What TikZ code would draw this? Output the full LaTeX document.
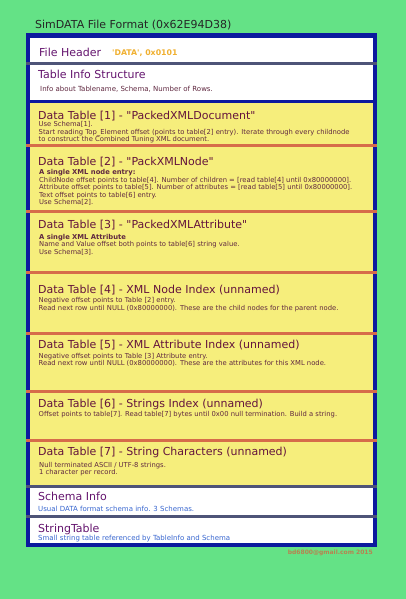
\documentclass[tikz,border=0pt]{standalone}
\usepackage{fontspec}
\setmainfont{DejaVu Sans}[Ligatures=TeXOff]
\definecolor{bggreen}{RGB}{100,226,134}
\definecolor{frameblue}{RGB}{12,26,158}
\definecolor{tableyellow}{RGB}{246,238,124}
\definecolor{sepred}{RGB}{214,108,74}
\definecolor{sepgray}{RGB}{78,84,120}
\definecolor{headpurple}{RGB}{100,20,110}
\definecolor{tablemaroon}{RGB}{100,20,60}
\definecolor{notebrown}{RGB}{96,40,64}
\definecolor{noteblue}{RGB}{56,102,208}
\definecolor{magicorange}{RGB}{240,176,48}
\definecolor{mailtan}{RGB}{184,130,80}
\begin{document}
\begin{tikzpicture}[x=1pt,y=-1pt,
  headtitle/.style={anchor=base west,inner sep=0pt,font=\fontsize{11}{13}\selectfont,text=headpurple},
  tabletitle/.style={headtitle,text=tablemaroon},
  tablenote/.style={anchor=base west,inner sep=0pt,align=left,font=\fontsize{6.8}{7.6}\selectfont,text=notebrown},
  headnote/.style={tablenote,font=\fontsize{7}{7.6}\selectfont},
  bluenote/.style={headnote,text=noteblue},
  redsep/.style={line width=3pt,sepred},
  graysep/.style={line width=3pt,sepgray}]

% Background
\fill[bggreen] (0,0) rectangle (406,599);
\useasboundingbox (0,0) rectangle (406,599);

% Title
\node[anchor=base west,inner sep=0pt,font=\fontsize{11}{13}\selectfont,text=black!85] (title) at (35,29) {SimDATA File Format (0x62E94D38)};

% Frame and fills
\fill[frameblue] (26,33.5) rectangle (377,547);
\fill[white] (30,38) rectangle (373,543);
\fill[frameblue] (26,100) rectangle (377,103.5);
\fill[tableyellow] (30,103.5) rectangle (373,486);

% Separators
\draw[graysep] (26,63.5) -- (377,63.5);
\foreach \sy in {145,211,272.5,333,391,440.5}
  \draw[redsep] (26,\sy) -- (377,\sy);
\draw[graysep] (26,486.7) -- (377,486.7);
\draw[graysep] (26,516.7) -- (377,516.7);

% File Header
\node[headtitle] (header) at (39,56.5) {File Header};
\node[anchor=base west,inner sep=0pt,font=\bfseries\fontsize{7.8}{9}\selectfont,text=magicorange] (magic) at (112,56) {'DATA', 0x0101};

% Table Info Structure
\node[headtitle] (tableinfo) at (38,79) {Table Info Structure};
\node[headnote] (tableinfonote) at (40,91.2) {Info about Tablename, Schema, Number of Rows.};

% Data Table 1 (note anchored on its last line)
\node[tabletitle] (table1) at (38,119) {Data Table [1] - "PackedXMLDocument"};
\node[tablenote] (table1note) at (38.5,141.8) {Use Schema[1].\\Start reading Top\_Element offset (points to table[2] entry). Iterate through every childnode\\to construct the Combined Tuning XML document.};

% Data Table 2
\node[tabletitle] (table2) at (38,165) {Data Table [2] - "PackXMLNode"};
\node[tablenote] (table2note) at (39,204.8) {\textbf{A single XML node entry:}\\ChildNode offset points to table[4]. Number of children = [read table[4] until 0x80000000].\\Attribute offset points to table[5]. Number of attributes = [read table[5] until 0x80000000].\\Text offset points to table[6] entry.\\Use Schema[2].};

% Data Table 3
\node[tabletitle] (table3) at (38,228) {Data Table [3] - "PackedXMLAttribute"};
\node[tablenote] (table3note) at (39,254.2) {\textbf{A single XML Attribute}\\Name and Value offset both points to table[6] string value.\\Use Schema[3].};

% Data Table 4
\node[tabletitle] (table4) at (38,293) {Data Table [4] - XML Node Index (unnamed)};
\node[tablenote] (table4note) at (38.5,310.2) {Negative offset points to Table [2] entry.\\Read next row until NULL (0x80000000). These are the child nodes for the parent node.};

% Data Table 5
\node[tabletitle] (table5) at (38,348) {Data Table [5] - XML Attribute Index (unnamed)};
\node[tablenote] (table5note) at (38.5,365.7) {Negative offset points to Table [3] Attribute entry.\\Read next row until NULL (0x80000000). These are the attributes for this XML node.};

% Data Table 6
\node[tabletitle] (table6) at (38,407) {Data Table [6] - Strings Index (unnamed)};
\node[tablenote] (table6note) at (38.5,416.5) {Offset points to table[7]. Read table[7] bytes until 0x00 null termination. Build a string.};

% Data Table 7
\node[tabletitle] (table7) at (38,455.5) {Data Table [7] - String Characters (unnamed)};
\node[tablenote] (table7note) at (39,474.7) {Null terminated ASCII / UTF-8 strings.\\1 character per record.};

% Schema Info
\node[headtitle] (schema) at (38,500.5) {Schema Info};
\node[bluenote] (schemanote) at (38,511.5) {Usual DATA format schema info. 3 Schemas.};

% StringTable
\node[headtitle] (strings) at (38,532) {StringTable};
\node[bluenote] (stringsnote) at (38,540.2) {Small string table referenced by TableInfo and Schema};

% Signature
\node[anchor=base east,inner sep=0pt,font=\bfseries\fontsize{6}{7.5}\selectfont,text=mailtan] (mail) at (373,554) {bd6800@gmail.com 2015};
\end{tikzpicture}
\end{document}
